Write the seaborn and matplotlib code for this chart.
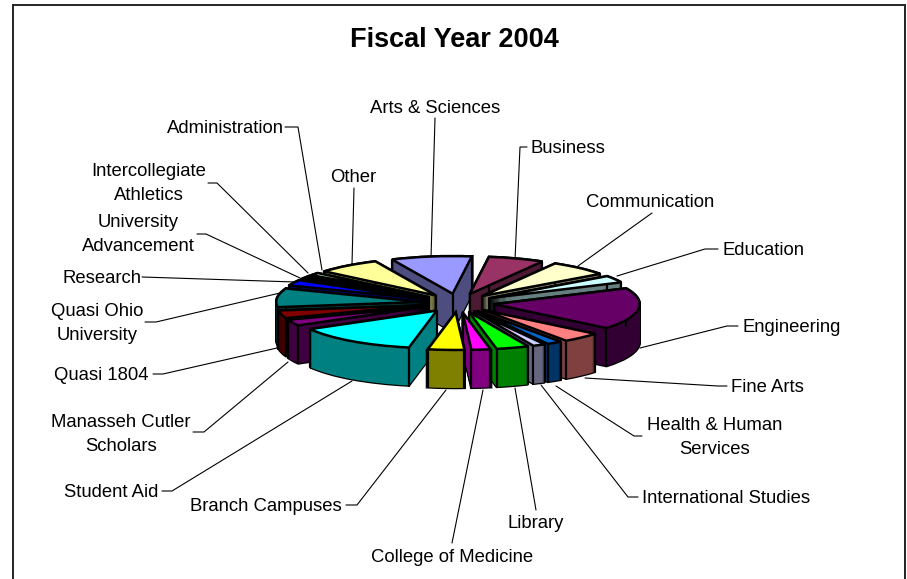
import numpy as np
import matplotlib
matplotlib.use('Agg')
import matplotlib.pyplot as plt
import seaborn as sns

departments = ['Arts & Sciences', 'Business', 'Communication', 'Education', 'Engineering',
               'Fine Arts', 'Health & Human\nServices', 'International Studies', 'Library',
               'College of Medicine', 'Branch Campuses', 'Student Aid',
               'Manasseh Cutler\nScholars', 'Quasi 1804', 'Quasi Ohio\nUniversity', 'Research',
               'University\nAdvancement', 'Intercollegiate\nAthletics', 'Administration', 'Other']
shares = [8.94, 6.22, 6.67, 3.06, 17.92, 4.31, 1.67, 1.39, 3.61, 2.08, 4.03, 13.75, 2.64, 3.33, 8.06, 2.5, 0.83, 0.83, 1.11, 7.06]
slice_colors = ['#9999FF', '#993366', '#FFFFCC', '#CCFFFF', '#660066', '#FF8080', '#0066CC', '#CCCCFF',
                '#00FF00', '#FF00FF', '#FFFF00', '#00FFFF', '#800080', '#800000', '#008080', '#0000FF',
                '#00CCFF', '#CCFFFF', '#CCFFCC', '#FFFF99']

W, H = 907, 579
sns.set_theme(style='white')
plt.rcParams['font.family'] = ['Liberation Sans', 'DejaVu Sans']

fig = plt.figure(figsize=(W / 100, H / 100), dpi=100, facecolor='white')

# overlay in pixel coordinates for frame, title, labels and leader lines
over = fig.add_axes([0, 0, 1, 1])
over.set_xlim(0, W)
over.set_ylim(H, 0)
over.axis('off')
over.plot([13, 13, 905, 905], [H, 5, 5, H], color='#222222', lw=1.4, solid_joinstyle='miter')
over.text(454, 40, 'Fiscal Year 2004', ha='center', va='center', fontsize=19.5, fontweight='bold', color='black')

# label anchor and leader path for each department, same order as departments
layout = [
    (435, 107, 'center', [(435, 118), (431, 258)]),
    (531, 147, 'left', [(527, 147), (520, 147), (515, 260)]),
    (650, 201, 'center', [(652, 213), (578, 266)]),
    (722, 249, 'left', [(718, 249), (705, 249), (617, 276)]),
    (742, 326, 'left', [(738, 326), (727, 326), (640, 348)]),
    (731, 386, 'left', [(727, 386), (718, 386), (585, 378)]),
    (715, 436, 'center', [(642, 436), (634, 436), (556, 386)]),
    (642, 497, 'left', [(638, 497), (628, 497), (541, 385)]),
    (536, 522, 'center', [(536, 510), (515, 388)]),
    (452, 556, 'center', [(452, 543), (483, 390)]),
    (342, 505, 'right', [(346, 505), (357, 505), (446, 390)]),
    (158, 491, 'right', [(162, 491), (172, 491), (352, 381)]),
    (121, 433, 'center', [(193, 432), (204, 432), (288, 362)]),
    (149, 374, 'right', [(153, 374), (163, 374), (277, 348)]),
    (97, 322, 'center', [(145, 322), (156, 322), (280, 293)]),
    (141, 277, 'right', [(142, 277), (295, 282)]),
    (138, 233, 'center', [(197, 234), (206, 234), (300, 278)]),
    (149, 182, 'center', [(208, 183), (217, 183), (308, 273)]),
    (284, 127, 'right', [(285, 127), (298, 127), (322, 270)]),
    (353, 176, 'center', [(354, 188), (352, 264)]),
]
for name, (tx, ty, ha, path) in zip(departments, layout):
    over.text(tx, ty + 1.5, name, ha=ha, va='center', fontsize=13.3, color='black', linespacing=1.5, multialignment='center')
    px, py = zip(*path)
    over.plot(px, py, color='black', lw=0.8)

# pie axes, one data unit is px_x pixels across and px_y pixels down
px_x, px_y = 182, 47
cx, cy = 458, 303
depth = 38
radius, explode = 0.8, 0.2
ax = fig.add_axes([0, 0, 1, 1])
ax.patch.set_alpha(0)

shares = np.array(shares)
start = 114.6
sweep = shares / shares.sum() * 360
bounds = start - np.concatenate([[0], np.cumsum(sweep)])
mids = np.radians((bounds[:-1] + bounds[1:]) / 2)
rank = np.argsort(np.argsort(-np.sin(mids)))
top_colors = sns.color_palette(slice_colors, len(slice_colors))
side_colors = [tuple(c * 0.5 for c in col) for col in top_colors]
offsets = [explode] * len(shares)

for k in range(depth, -1, -1):
    shift = k / px_y
    edges, _ = ax.pie(shares, colors=side_colors, startangle=start, counterclock=False, radius=radius,
                      explode=offsets, center=(0, -shift), wedgeprops={'edgecolor': 'black', 'linewidth': 1.8})
    fills, _ = ax.pie(shares, colors=side_colors, startangle=start, counterclock=False, radius=radius,
                      explode=offsets, center=(0, -shift), wedgeprops={'linewidth': 0})
    for r, a, b in zip(rank, edges, fills):
        a.set_zorder(r * 1000 + depth - k)
        b.set_zorder(r * 1000 + 200 + depth - k)

tops, _ = ax.pie(shares, colors=top_colors, startangle=start, counterclock=False, radius=radius,
                 explode=offsets, wedgeprops={'edgecolor': 'black', 'linewidth': 1.8})
for i, w in enumerate(tops):
    w.set_zorder(rank[i] * 1000 + 900)
    # vertical edges at the corners of each slice
    ox = explode * np.cos(mids[i])
    oy = explode * np.sin(mids[i])
    corners = [(ox, oy)]
    for ang in np.radians([bounds[i], bounds[i + 1]]):
        corners.append((ox + radius * np.cos(ang), oy + radius * np.sin(ang)))
    for x0, y0 in corners:
        ax.plot([x0, x0], [y0, y0 - depth / px_y], color='black', lw=1.6, zorder=rank[i] * 1000 + 800)

ax.set_aspect('auto')
ax.set_xlim(-cx / px_x, (W - cx) / px_x)
ax.set_ylim((cy - H) / px_y, cy / px_y)
ax.axis('off')

fig.savefig('out.png', dpi=100, facecolor='white')
